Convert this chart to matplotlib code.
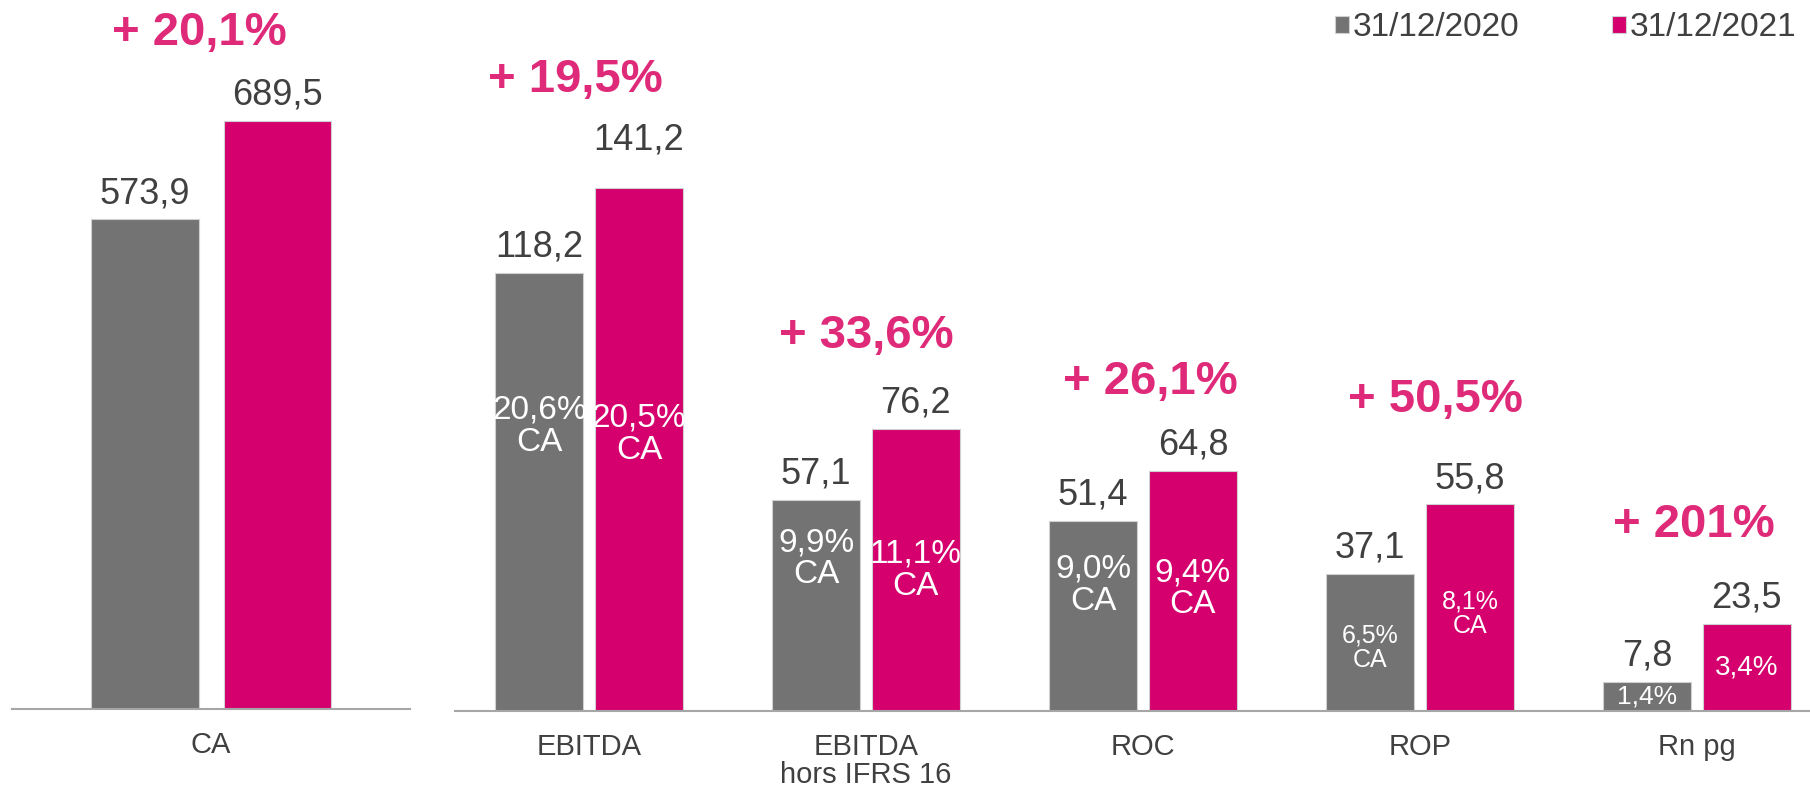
import numpy as np
import matplotlib
matplotlib.use("Agg")
import matplotlib.pyplot as plt

plt.rcParams['font.family'] = ['Liberation Sans', 'DejaVu Sans']

# ---- data ----
series = ["31/12/2020", "31/12/2021"]
ca_label = ["CA"]
ca_2020 = [573.9]
ca_2021 = [689.5]
ca_growth = ["+ 20,1%"]

cats = ["EBITDA", "EBITDA\nhors IFRS 16", "ROC", "ROP", "Rn pg"]
v2020 = [118.2, 57.1, 51.4, 37.1, 7.8]
v2021 = [141.2, 76.2, 64.8, 55.8, 23.5]
growth = ["+ 19,5%", "+ 33,6%", "+ 26,1%", "+ 50,5%", "+ 201%"]
pct2020 = ["20,6%\nCA", "9,9%\nCA", "9,0%\nCA", "6,5%\nCA", "1,4%"]
pct2021 = ["20,5%\nCA", "11,1%\nCA", "9,4%\nCA", "8,1%\nCA", "3,4%"]

GREY = "#737373"
PINK = "#D5006D"
GROW = "#DE2A78"
TXT = "#404040"
AXL = "#A6A6A6"

fig = plt.figure(figsize=(18.1, 7.91), dpi=100)

def fmt(v):
    return ("%.1f" % v).replace(".", ",")

#---------- left panel (CA) ----------
ax1 = fig.add_axes([0.0066, 0.1037, 0.22, 0.8963])
x1 = np.arange(len(ca_label))
w1, off1 = 0.269, 0.166
b1 = ax1.bar(x1 - off1, ca_2020, w1, color=GREY, edgecolor="#d0d0d0", lw=0.8)
b2 = ax1.bar(x1 + off1, ca_2021, w1, color=PINK, edgecolor="#d0d0d0", lw=0.8)
ax1.set_xlim(-0.5, 0.5)
ax1.set_ylim(0, 831)
for b in list(b1) + list(b2):
    ax1.annotate(fmt(b.get_height()), (b.get_x() + b.get_width()/2, b.get_height()),
                 xytext=(0, 6), textcoords="offset points", ha="center", va="bottom",
                 fontsize=26, color=TXT)
for i, g in enumerate(ca_growth):
    ax1.annotate(g, (x1[i] - 0.03, ca_2021[i]), xytext=(0, 63.5), textcoords="offset points",
                 ha="center", va="center", fontsize=34, fontweight="bold", color=GROW)

#---------- right panel ----------
ax2 = fig.add_axes([0.2514, 0.101, 0.7486, 0.899])
x = np.arange(len(cats))
w, off = 0.318, 0.18
g1 = ax2.bar(x - off, v2020, w, color=GREY, edgecolor="#d0d0d0", lw=0.8, label=series[0])
g2 = ax2.bar(x + off, v2021, w, color=PINK, edgecolor="#d0d0d0", lw=0.8, label=series[1])
ax2.set_xlim(-0.484, 4.408)
ax2.set_ylim(0, 192)

# label placement tweaks (points)
lift21 = [16, 0, 0, 0, 0]
grow_dx = [-10, 0, 5, 11, -2.5]
grow_dy = [78, 67, 64, 75, 71.5]

for i, b in enumerate(g1):
    ax2.annotate(fmt(b.get_height()), (b.get_x() + b.get_width()/2, b.get_height()),
                 xytext=(0, 6), textcoords="offset points", ha="center", va="bottom",
                 fontsize=26, color=TXT)
for i, b in enumerate(g2):
    ax2.annotate(fmt(b.get_height()), (b.get_x() + b.get_width()/2, b.get_height()),
                 xytext=(0, 6 + lift21[i]), textcoords="offset points", ha="center",
                 va="bottom", fontsize=26, color=TXT)
for i, g in enumerate(growth):
    ax2.annotate(g, (x[i], v2021[i]), xytext=(grow_dx[i], grow_dy[i]), textcoords="offset points",
                 ha="center", va="center", fontsize=34, fontweight="bold", color=GROW)

# where the margin labels sit inside the bars (share of bar height) and their size
frac20 = [0.65, 0.72, 0.66, 0.46, 0.5]
frac21 = [0.53, 0.50, 0.51, 0.47, 0.5]
size20 = [24, 24, 24, 18, 19]
size21 = [24, 24, 24, 18, 20]
for i in range(len(cats)):
    ax2.text(x[i] - off, v2020[i]*frac20[i], pct2020[i], ha="center", va="center",
             fontsize=size20[i], color="white", linespacing=1.05)
    ax2.text(x[i] + off, v2021[i]*frac21[i], pct2021[i], ha="center", va="center",
             fontsize=size21[i], color="white", linespacing=1.05)

for ax, labs, xs in ((ax1, ca_label, x1), (ax2, cats, x)):
    for s in ("top", "right", "left"):
        ax.spines[s].set_visible(False)
    ax.spines["bottom"].set_color(AXL)
    ax.spines["bottom"].set_linewidth(1.5)
    ax.set_yticks([])
    ax.set_xticks(xs)
    ax.set_xticklabels(labs, fontsize=21, color=TXT, linespacing=1.0, va="top")
    ax.tick_params(axis="x", length=0, pad=16)

leg = ax2.legend(loc="upper right", bbox_to_anchor=(1.012, 1.025), ncol=2, frameon=False,
                 fontsize=24, handlelength=0.42, handleheight=0.42, handletextpad=0.1,
                 columnspacing=2.8, labelcolor=TXT)

fig.savefig("out.png", dpi=100)
